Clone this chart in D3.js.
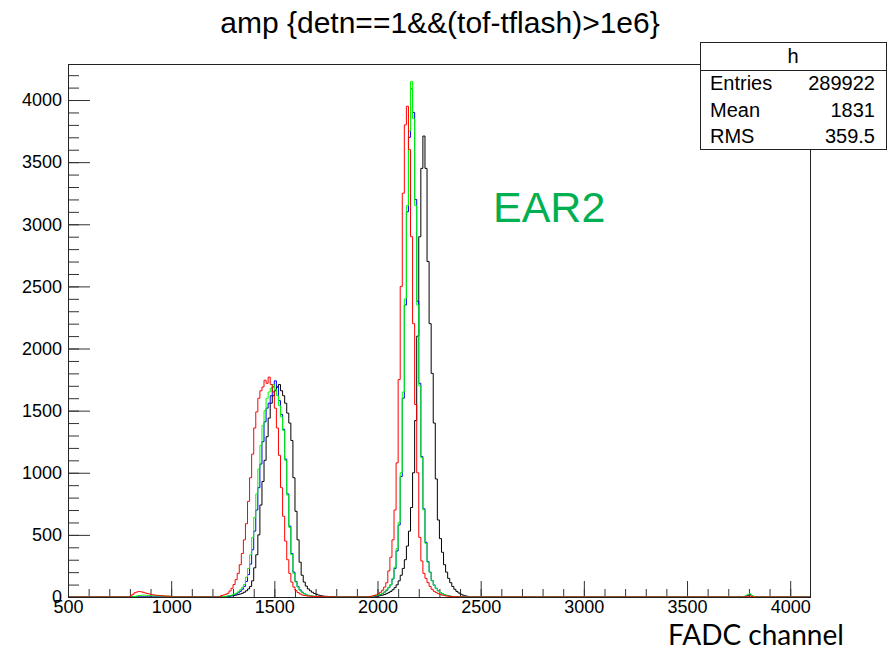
<!DOCTYPE html>
<html>
<head>
<meta charset="utf-8">
<script src="https://cdn.jsdelivr.net/npm/d3@7"></script>
<style>
body { margin: 0; background: #fff; }
text { font-family: "Liberation Sans", Arial, sans-serif; }
</style>
</head>
<body>
<svg id="chart" width="892" height="651"></svg>
<script>
// histogram bins are 10 FADC channels wide; each array starts at its own channel
var binWidth = 10;
var bumpStart = 800;
var lowStart = 1240;
var highStart = 1960;
var tailStart = 3770;

var redBump = [8, 22, 34, 40, 44, 42, 38, 33, 28, 24, 20, 17, 15, 13, 11, 10, 9, 8, 7, 6];
var greenBump = [0, 2, 5, 8, 12, 14, 15, 14, 13, 12, 11, 10, 10, 9, 9, 8, 8, 7, 7, 6];

var redLow = [12, 16, 22, 30, 48, 70,
    100, 140, 190, 260, 350, 460, 590, 770, 960, 1150,
    1360, 1490, 1600, 1660, 1690, 1745, 1720, 1770, 1710, 1650,
    1520, 1360, 1140, 880, 650, 450, 300, 190, 120, 80,
    52, 36, 25, 17, 12, 9, 7, 6, 5, 4,
    4, 3, 3, 3, 2, 2, 2, 2, 1, 1];
var greenLow = [3, 4, 6, 8, 11, 16,
    22, 30, 42, 58, 75, 100, 160, 230, 340, 480,
    640, 830, 1030, 1220, 1380, 1500, 1600, 1650, 1680, 1710,
    1670, 1620, 1540, 1450, 1340, 1100, 820, 560, 340, 190,
    120, 80, 55, 38, 26, 18, 13, 9, 7, 5,
    4, 3, 3, 2, 2, 2, 1, 1, 1, 1];
var blueLow = [2, 3, 4, 6, 8, 12,
    17, 24, 33, 45, 62, 85, 125, 180, 265, 380,
    530, 700, 880, 1070, 1250, 1410, 1520, 1560, 1620, 1690,
    1740, 1690, 1580, 1470, 1350, 1110, 830, 570, 350, 200,
    125, 85, 58, 40, 27, 18, 13, 9, 7, 5,
    4, 3, 3, 2, 2, 2, 1, 1, 1, 1];
var blackLow = [2, 3, 4, 5, 7, 9,
    12, 15, 19, 24, 30, 38, 50, 65, 85, 130,
    235, 340, 500, 740, 930, 1100, 1290, 1440, 1560, 1620,
    1660, 1690, 1710, 1660, 1620, 1560, 1480, 1400, 1260, 960,
    690, 460, 280, 175, 120, 88, 65, 50, 38, 28,
    22, 15, 11, 8, 6, 5, 4, 3, 2, 2];

var redHigh = [5, 8, 12, 18, 26, 38, 55, 80, 115, 210,
    320, 460, 700, 1080, 1750, 2500, 3250, 3800, 3950, 3600,
    2900, 2200, 1550, 1000, 480, 290, 190, 150, 115, 85,
    62, 46, 35, 27, 20, 15, 11, 8, 6, 4,
    3, 2, 2, 1, 1, 1, 0, 0];
var greenHigh = [3, 5, 8, 12, 16, 22, 30, 42, 58, 78,
    100, 150, 240, 390, 600, 1000, 1650, 2400, 3150, 3750,
    4150, 3850, 3150, 2350, 1700, 1120, 700, 430, 280, 200,
    130, 95, 70, 50, 36, 26, 19, 13, 9, 6,
    4, 3, 2, 1, 1, 1, 0, 0];
var blueHigh = [2, 4, 7, 10, 14, 20, 28, 40, 55, 75,
    98, 145, 230, 370, 580, 970, 1600, 2350, 3100, 3700,
    4090, 3900, 3200, 2380, 1720, 1130, 710, 440, 285, 200,
    132, 96, 70, 50, 36, 26, 19, 13, 9, 6,
    4, 3, 2, 1, 1, 1, 0, 0];
var blackHigh = [2, 3, 4, 6, 8, 11, 15, 20, 27, 35,
    45, 58, 75, 98, 130, 175, 230, 300, 410, 530,
    720, 1000, 1420, 2100, 2900, 3450, 3710, 3450, 2700, 2200,
    1800, 1400, 950, 620, 470, 360, 260, 200, 150, 115,
    85, 62, 45, 32, 22, 15, 10, 6];

var redTail = [1, 3, 6, 8, 4, 1];
var greenTail = [3, 8, 18, 25, 12, 4];
var blueTail = [2, 6, 15, 22, 10, 3];
var blackTail = [2, 5, 12, 18, 8, 2];

var xMajorTicks = [500, 1000, 1500, 2000, 2500, 3000, 3500, 4000];
var yMajorTicks = [0, 500, 1000, 1500, 2000, 2500, 3000, 3500, 4000];

var statsTitle = "h";
var statsLabels = ["Entries", "Mean", "RMS"];
var statsValues = ["289922", "1831", "359.5"];

// drawing order: the last one ends up on top
var series = [
    {color: "#000000", parts: [[lowStart, blackLow], [highStart, blackHigh], [tailStart, blackTail]]},
    {color: "#0000ff", parts: [[lowStart, blueLow], [highStart, blueHigh], [tailStart, blueTail]]},
    {color: "#00ff00", parts: [[bumpStart, greenBump], [lowStart, greenLow], [highStart, greenHigh], [tailStart, greenTail]]},
    {color: "#ff0000", parts: [[bumpStart, redBump], [lowStart, redLow], [highStart, redHigh], [tailStart, redTail]]}
];

var svg = d3.select("#chart");
var xMin = 500, xMax = 4096, yMax = 4290;
// frame edges (plain "top" would clash with window.top)
var fLeft = 68, fRight = 810, fTop = 64, fBottom = 597;

var x = d3.scaleLinear().domain([xMin, xMax]).range([fLeft, fRight]);
var y = d3.scaleLinear().domain([0, yMax]).range([fBottom, fTop]);

svg.append("text")
    .attr("x", 440).attr("y", 33)
    .attr("text-anchor", "middle")
    .attr("font-size", "30px")
    .text("amp {detn==1&&(tof-tflash)>1e6}");

// minor ticks, every 100
var xMinor = d3.range(xMin, xMax, 100);
var yMinor = d3.range(0, yMax, 100);

function labelStyle(g) {
    g.select(".domain").remove();
    g.selectAll("text").attr("font-size", "18px").attr("fill", "#000")
        .style("font-family", "'Liberation Sans', Arial, sans-serif");
}

svg.append("g")
    .attr("transform", "translate(0," + fBottom + ")")
    .call(d3.axisBottom(x).tickValues(xMinor).tickSize(-8).tickSizeOuter(0).tickFormat(""))
    .call(labelStyle);

svg.append("g")
    .attr("transform", "translate(0," + fBottom + ")")
    .call(d3.axisBottom(x).tickValues(xMajorTicks).tickSize(-16).tickSizeOuter(0).tickPadding(3)
        .tickFormat(d3.format("d")))
    .call(labelStyle);

svg.append("g")
    .attr("transform", "translate(" + fLeft + ",0)")
    .call(d3.axisLeft(y).tickValues(yMinor).tickSize(-11).tickSizeOuter(0).tickFormat(""))
    .call(labelStyle);

svg.append("g")
    .attr("transform", "translate(" + fLeft + ",0)")
    .call(d3.axisLeft(y).tickValues(yMajorTicks).tickSize(-22).tickSizeOuter(0).tickPadding(6)
        .tickFormat(d3.format("d")))
    .call(labelStyle);

svg.selectAll(".tick line").attr("stroke", "#333");

// build the full bin list for each histogram
function binsOf(s) {
    var n = Math.ceil((xMax - xMin) / binWidth);
    var vals = new Array(n).fill(0);
    s.parts.forEach(function (p) {
        var first = (p[0] - xMin) / binWidth;
        p[1].forEach(function (v, i) { vals[first + i] = v; });
    });
    var pts = vals.map(function (v, i) { return [xMin + i * binWidth, v]; });
    pts.push([xMax, 0]);
    return pts;
}

var line = d3.line()
    .x(function (d) { return x(d[0]); })
    .y(function (d) { return y(d[1]); })
    .curve(d3.curveStepAfter);

svg.append("g").selectAll("path")
    .data(series)
    .enter().append("path")
    .attr("fill", "none")
    .attr("stroke", function (d) { return d.color; })
    .attr("stroke-width", 1)
    .attr("d", function (d) { return line(binsOf(d)); });

// frame
svg.append("rect")
    .attr("x", fLeft + 0.5).attr("y", fTop + 0.5)
    .attr("width", fRight - fLeft).attr("height", fBottom - fTop)
    .attr("fill", "none").attr("stroke", "#222");

// stats box
var sb = {x: 700, y: 42, w: 186, h: 107, head: 28, row: 26.5};
var stats = svg.append("g");
stats.append("rect")
    .attr("x", sb.x + 0.5).attr("y", sb.y + 0.5)
    .attr("width", sb.w).attr("height", sb.h)
    .attr("fill", "#fff").attr("stroke", "#222");
stats.append("line")
    .attr("x1", sb.x).attr("x2", sb.x + sb.w)
    .attr("y1", sb.y + sb.head + 0.5).attr("y2", sb.y + sb.head + 0.5)
    .attr("stroke", "#222");
stats.append("text")
    .attr("x", sb.x + sb.w / 2).attr("y", sb.y + 21)
    .attr("text-anchor", "middle").attr("font-size", "20px")
    .text(statsTitle);
statsLabels.forEach(function (lab, i) {
    var yy = sb.y + sb.head + 20 + i * sb.row;
    stats.append("text").attr("x", sb.x + 10).attr("y", yy)
        .attr("font-size", "20px").text(lab);
    stats.append("text").attr("x", sb.x + sb.w - 11).attr("y", yy)
        .attr("text-anchor", "end").attr("font-size", "20px").text(statsValues[i]);
});

svg.append("text")
    .attr("x", 493).attr("y", 222)
    .attr("font-size", "43px")
    .attr("fill", "#00b050")
    .text("EAR2");

svg.append("text")
    .attr("x", 668).attr("y", 645)
    .attr("font-size", "28px")
    .style("font-family", "Lato, 'Open Sans', sans-serif")
    .text("FADC channel");
</script>
</body>
</html>
